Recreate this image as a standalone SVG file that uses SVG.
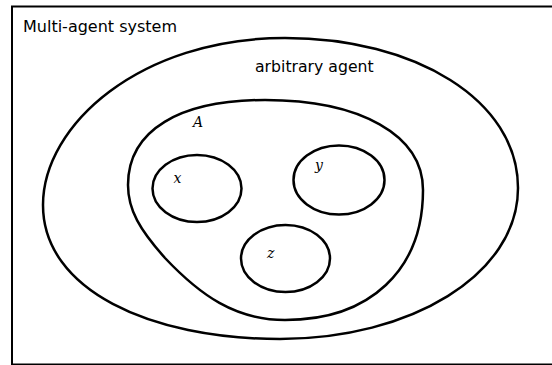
<svg xmlns="http://www.w3.org/2000/svg" width="552" height="365" viewBox="0 0 552 365">
<style>
.ln{fill:none;stroke:#000;stroke-width:2.5}
.lbl{font-family:"DejaVu Sans",sans-serif;font-size:15.7px;fill:#000}
.var{font-family:"DejaVu Serif",serif;font-style:italic;font-size:14px;fill:#000}
</style>
<rect x="0" y="0" width="552" height="365" fill="#fff"/>
<g id="system">
<rect x="12" y="6.5" width="560" height="358" fill="none" stroke="#000" stroke-width="2"/>
<text class="lbl" x="23" y="31.5" style="font-size:16px">Multi-agent system</text>
</g>
<g id="agent">
<path class="ln" d="M285,38 C415,38 518,100 518,188 C518,275 410,339 280,339 C150,339 43,290 43,205 C43,125 140,38 285,38 Z"/>
<text class="lbl" x="255" y="71.5">arbitrary agent</text>
</g>
<g id="A">
<path class="ln" d="M265,100 C360,100 423,135 423,190 C423,270 370,320 285,320 C235,320 200,295 165,258 C140,230 128,210 128,185 C128,130 180,100 265,100 Z"/>
<text class="var" x="193" y="126.5">A</text>
</g>
<g id="x">
<ellipse class="ln" cx="197" cy="188.5" rx="44.5" ry="33.5"/>
<text class="var" x="173.5" y="183">x</text>
</g>
<g id="y">
<ellipse class="ln" cx="339" cy="180" rx="45.5" ry="34.5"/>
<text class="var" x="315" y="170">y</text>
</g>
<g id="z">
<ellipse class="ln" cx="285.5" cy="258.5" rx="44.5" ry="33.5"/>
<text class="var" x="267" y="258">z</text>
</g>
<g id="connectors"/>
</svg>
